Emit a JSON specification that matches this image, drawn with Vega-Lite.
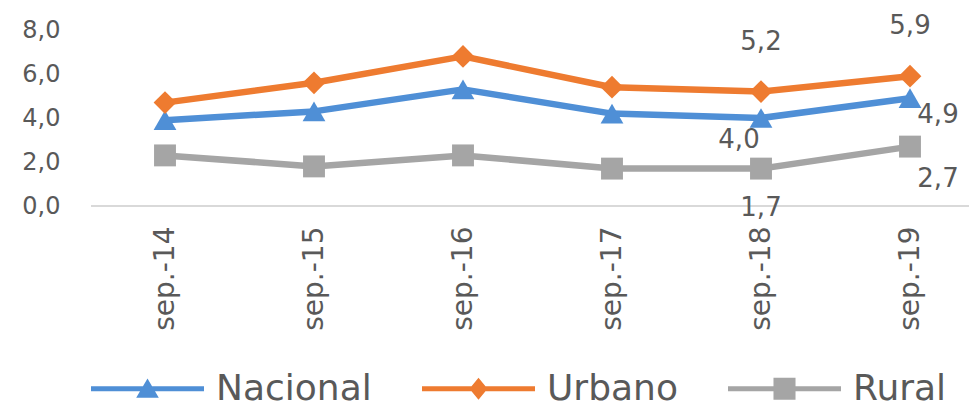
{
  "$schema": "https://vega.github.io/schema/vega-lite/v6.json",
  "width": 878,
  "height": 176,
  "autosize": {"type": "none"},
  "padding": {"left": 91, "top": 30, "right": 0, "bottom": 201},
  "background": "white",
  "config": {
    "view": {"stroke": null},
    "font": "DejaVu Sans",
    "locale": {"number": {"decimal": ",", "thousands": ".", "grouping": [3], "currency": ["", " €"]}},
    "legend": {"padding": 0, "orient": "bottom", "direction": "horizontal", "labelFontSize": 36, "labelColor": "#595959", "labelOffset": 12, "columnPadding": 50, "offset": 1, "symbolSize": 12769, "symbolStrokeWidth": 0, "symbolOpacity": 1}
  },
  "data": {"values": [
    {"periodo": "sep.-14", "serie": "Nacional", "valor": 3.9},
    {"periodo": "sep.-15", "serie": "Nacional", "valor": 4.3},
    {"periodo": "sep.-16", "serie": "Nacional", "valor": 5.3},
    {"periodo": "sep.-17", "serie": "Nacional", "valor": 4.2},
    {"periodo": "sep.-18", "serie": "Nacional", "valor": 4.0},
    {"periodo": "sep.-19", "serie": "Nacional", "valor": 4.9},
    {"periodo": "sep.-14", "serie": "Urbano", "valor": 4.7},
    {"periodo": "sep.-15", "serie": "Urbano", "valor": 5.6},
    {"periodo": "sep.-16", "serie": "Urbano", "valor": 6.8},
    {"periodo": "sep.-17", "serie": "Urbano", "valor": 5.4},
    {"periodo": "sep.-18", "serie": "Urbano", "valor": 5.2},
    {"periodo": "sep.-19", "serie": "Urbano", "valor": 5.9},
    {"periodo": "sep.-14", "serie": "Rural", "valor": 2.3},
    {"periodo": "sep.-15", "serie": "Rural", "valor": 1.8},
    {"periodo": "sep.-16", "serie": "Rural", "valor": 2.3},
    {"periodo": "sep.-17", "serie": "Rural", "valor": 1.7},
    {"periodo": "sep.-18", "serie": "Rural", "valor": 1.7},
    {"periodo": "sep.-19", "serie": "Rural", "valor": 2.7}
  ]},
  "layer": [
    {
      "mark": {"type": "rule", "color": "#D9D9D9", "strokeWidth": 2},
      "encoding": {
        "y": {"datum": 0, "type": "quantitative", "scale": {"domain": [0, 8], "nice": false}}
      }
    },
    {
      "mark": {"type": "line", "strokeWidth": 6.5, "strokeJoin": "round"},
      "encoding": {
        "x": {"field": "periodo", "type": "ordinal", "sort": null,
          "scale": {"type": "point", "range": [74, 819], "padding": 0},
          "axis": {"title": null, "labelAngle": -90, "labelFontSize": 28, "labelColor": "#595959", "labelPadding": 20, "ticks": false, "domain": false, "grid": false}},
        "y": {"field": "valor", "type": "quantitative", "scale": {"domain": [0, 8], "nice": false},
          "axis": {"title": null, "values": [0, 2, 4, 6, 8], "format": ".1f", "labelFontSize": 24, "labelColor": "#595959", "labelPadding": 31, "ticks": false, "domain": false, "grid": false}},
        "color": {"field": "serie", "type": "nominal", "title": null,
          "scale": {"domain": ["Nacional", "Urbano", "Rural"], "range": ["#4F8FD6", "#EE7B30", "#A5A5A5"]}}
      }
    },
    {
      "transform": [{"filter": {"field": "serie", "equal": "Nacional"}}],
      "mark": {"type": "point", "filled": true, "opacity": 1, "size": 520, "shape": "triangle-up"},
      "encoding": {
        "x": {"field": "periodo", "type": "ordinal", "sort": null},
        "y": {"field": "valor", "type": "quantitative"},
        "color": {"field": "serie", "type": "nominal", "title": null}
      }
    },
    {
      "transform": [{"filter": {"field": "serie", "equal": "Urbano"}}],
      "mark": {"type": "point", "filled": true, "opacity": 1, "size": 520, "shape": "diamond"},
      "encoding": {
        "x": {"field": "periodo", "type": "ordinal", "sort": null},
        "y": {"field": "valor", "type": "quantitative"},
        "color": {"field": "serie", "type": "nominal", "title": null}
      }
    },
    {
      "transform": [{"filter": {"field": "serie", "equal": "Rural"}}],
      "mark": {"type": "point", "filled": true, "opacity": 1, "size": 480, "shape": "square"},
      "encoding": {
        "x": {"field": "periodo", "type": "ordinal", "sort": null},
        "y": {"field": "valor", "type": "quantitative"},
        "color": {"field": "serie", "type": "nominal", "title": null}
      }
    },
    {
      "transform": [{"filter": "datum.valor < 0"}],
      "mark": {"type": "point", "filled": true, "opacity": 1},
      "encoding": {
        "x": {"field": "periodo", "type": "ordinal", "sort": null},
        "y": {"field": "valor", "type": "quantitative"},
        "color": {"field": "serie", "type": "nominal", "title": null},
        "shape": {"field": "serie", "type": "nominal", "title": null,
          "scale": {"domain": ["Nacional", "Urbano", "Rural"], "range": [
            "M-1,-0.044H1V0.044H-1Z M0,-0.18L0.2,0.16H-0.2Z",
            "M-1,-0.044H1V0.044H-1Z M0,-0.195L0.16,0L0,0.195L-0.16,0Z",
            "M-1,-0.044H1V0.044H-1Z M-0.195,-0.195H0.195V0.195H-0.195Z"]}}
      }
    },
    {
      "transform": [{"filter": {"and": [{"field": "serie", "equal": "Urbano"}, {"field": "periodo", "oneOf": ["sep.-18", "sep.-19"]}]}}],
      "mark": {"type": "text", "fontSize": 26, "color": "#595959", "dy": -50},
      "encoding": {
        "x": {"field": "periodo", "type": "ordinal", "sort": null},
        "y": {"field": "valor", "type": "quantitative"},
        "text": {"field": "valor", "type": "quantitative", "format": ".1f"}
      }
    },
    {
      "transform": [{"filter": {"and": [{"field": "serie", "equal": "Nacional"}, {"field": "periodo", "equal": "sep.-18"}]}}],
      "mark": {"type": "text", "fontSize": 26, "color": "#595959", "dx": -22, "dy": 22},
      "encoding": {
        "x": {"field": "periodo", "type": "ordinal", "sort": null},
        "y": {"field": "valor", "type": "quantitative"},
        "text": {"field": "valor", "type": "quantitative", "format": ".1f"}
      }
    },
    {
      "transform": [{"filter": {"and": [{"field": "serie", "equal": "Nacional"}, {"field": "periodo", "equal": "sep.-19"}]}}],
      "mark": {"type": "text", "fontSize": 26, "color": "#595959", "dx": 28, "dy": 17},
      "encoding": {
        "x": {"field": "periodo", "type": "ordinal", "sort": null},
        "y": {"field": "valor", "type": "quantitative"},
        "text": {"field": "valor", "type": "quantitative", "format": ".1f"}
      }
    },
    {
      "transform": [{"filter": {"and": [{"field": "serie", "equal": "Rural"}, {"field": "periodo", "equal": "sep.-18"}]}}],
      "mark": {"type": "text", "fontSize": 26, "color": "#595959", "dy": 39},
      "encoding": {
        "x": {"field": "periodo", "type": "ordinal", "sort": null},
        "y": {"field": "valor", "type": "quantitative"},
        "text": {"field": "valor", "type": "quantitative", "format": ".1f"}
      }
    },
    {
      "transform": [{"filter": {"and": [{"field": "serie", "equal": "Rural"}, {"field": "periodo", "equal": "sep.-19"}]}}],
      "mark": {"type": "text", "fontSize": 26, "color": "#595959", "dx": 28, "dy": 32},
      "encoding": {
        "x": {"field": "periodo", "type": "ordinal", "sort": null},
        "y": {"field": "valor", "type": "quantitative"},
        "text": {"field": "valor", "type": "quantitative", "format": ".1f"}
      }
    }
  ]
}
